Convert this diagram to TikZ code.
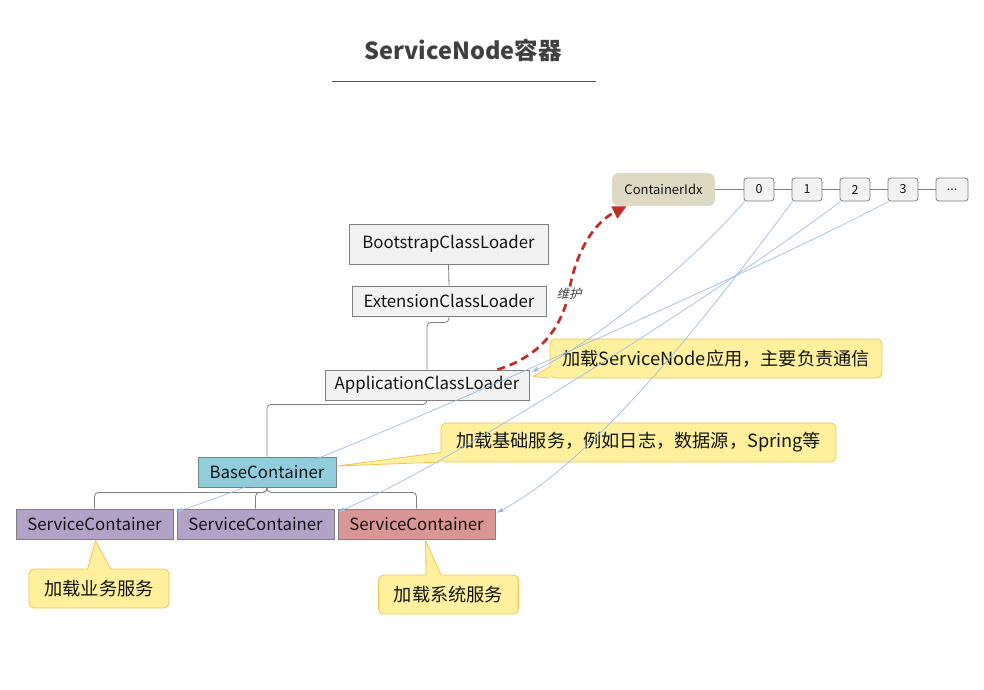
\documentclass[tikz,border=0pt]{standalone}
\usepackage{fontspec}
\setmainfont{Noto Sans CJK SC}
\newfontfamily\cjkslant[FakeSlant=0.25]{Noto Sans CJK SC}
\usetikzlibrary{arrows.meta,calc,backgrounds}
\definecolor{boxfill}{HTML}{F2F2F2}
\definecolor{boxline}{HTML}{7F7F7F}
\definecolor{treeline}{HTML}{808080}
\definecolor{txt}{HTML}{141414}
\definecolor{titletxt}{HTML}{404040}
\definecolor{titleline}{HTML}{3E5282}
\definecolor{idxfill}{HTML}{DDD9C3}
\definecolor{basefill}{HTML}{92CDDC}
\definecolor{purplefill}{HTML}{B2A2C7}
\definecolor{redfill}{HTML}{D99694}
\definecolor{callfill}{HTML}{FFF09E}
\definecolor{callline}{HTML}{F3C24E}
\definecolor{linkblue}{HTML}{9FBBE0}
\definecolor{maintred}{HTML}{BE2D2A}
\tikzset{
  box/.style={draw=boxline, fill=boxfill, line width=0.8pt, inner sep=0pt, text=txt, font=\fontsize{16.8}{18}\selectfont},
  idxbox/.style={draw=boxline, fill=boxfill, line width=0.8pt, rounded corners=3pt, inner sep=0pt, minimum width=30pt, minimum height=23pt, text=txt, font=\fontsize{12.5}{12}\selectfont},
  callout/.style={draw=callline, fill=callfill, line width=0.8pt, rounded corners=5pt, inner sep=0pt, text=txt, font=\fontsize{18.2}{18}\selectfont},
  tree/.style={draw=treeline, line width=0.8pt, rounded corners=4pt},
  link/.style={draw=linkblue, line width=0.7pt, -{Latex[length=7pt,width=4.5pt]}},
  maint/.style={draw=maintred, line width=2.7pt, dash pattern=on 8pt off 5pt, -{Triangle[length=14pt,width=13pt]}},
}
\begin{document}
\begin{tikzpicture}[x=1pt,y=-1pt]
\useasboundingbox (0,0) rectangle (984,689);

% title
\node[font=\fontsize{23.5}{25}\selectfont\bfseries, text=titletxt] (title) at (463,50) {ServiceNode容器};
\coordinate (ulA) at (332,81.5);
\coordinate (ulB) at (596,81.5);
\draw[titleline, line width=1.3pt] (ulA) -- (ulB);

% index row
\node[fill=idxfill, rounded corners=7pt, minimum width=103pt, minimum height=33pt, inner sep=0pt, text=txt, font=\fontsize{13}{13}\selectfont] (cidx) at (663.5,189.5) {ContainerIdx};
\node[idxbox] (i0) at (759,189.5) {0};
\node[idxbox] (i1) at (807,189.5) {1};
\node[idxbox] (i2) at (855,189.5) {2};
\node[idxbox] (i3) at (903,189.5) {3};
\node[idxbox, minimum width=32pt] (idots) at (952,189.5) {...};
\draw[tree] (cidx.east) -- (i0.west);
\draw[tree] (i0.east) -- (i1.west);
\draw[tree] (i1.east) -- (i2.west);
\draw[tree] (i2.east) -- (i3.west);
\draw[tree] (i3.east) -- (idots.west);

% class loader tree
\node[box, minimum width=199pt, minimum height=40pt] (bcl) at (448.5,244) {BootstrapClassLoader};
\node[box, minimum width=194pt, minimum height=30pt] (ecl) at (449,301) {ExtensionClassLoader};
\node[box, minimum width=204pt, minimum height=30pt] (acl) at (427,385) {ApplicationClassLoader};
\node[box, fill=basefill, minimum width=138pt, minimum height=30pt] (base) at (267,472) {BaseContainer};
\node[box, fill=purplefill, minimum width=157pt, minimum height=30pt] (sc1) at (94.5,524) {ServiceContainer};
\node[box, fill=purplefill, minimum width=157pt, minimum height=30pt] (sc2) at (255.5,524) {ServiceContainer};
\node[box, fill=redfill, minimum width=157pt, minimum height=30pt] (sc3) at (416.5,524) {ServiceContainer};

\begin{scope}[on background layer]
\draw[tree] (bcl.south) -- (ecl.north);
\draw[tree] (ecl.south) -- ++(0,6) -| (acl.north);
\draw[tree] (acl.south) -- ++(0,4) -| (base.north);
\draw[tree] (base.south) -- ++(0,5) -| (sc1.north);
\draw[tree] (base.south) -- ++(0,5) -| (sc3.north);
\draw[tree] (base.south) -- ++(0,5) -| (sc2.north);
\end{scope}

% callouts
\node[callout, minimum width=332pt, minimum height=39pt] (callA) at (716,358.5) {加载ServiceNode应用，主要负责通信};
\node[callout, minimum width=395pt, minimum height=39pt] (callB) at (638.5,442.5) {加载基础服务，例如日志，数据源，Spring等};
\node[callout, minimum width=140pt, minimum height=39pt] (callC) at (99,588.5) {加载业务服务};
\node[callout, minimum width=140pt, minimum height=39pt] (callD) at (448.5,594.5) {加载系统服务};

\coordinate (tipA) at ($(acl.north east)+(4,7)$);
\coordinate (tipB) at ($(base.east)+(1,-6)$);
\coordinate (tipC) at ($(sc1.south)+(1,1)$);
\coordinate (tipD) at ($(sc3.south)+(9,1)$);

\fill[callfill] ($(callA.south west)+(2,-12)$) -- (tipA) -- ($(callA.south west)+(2,-1.2)$) -- cycle;
\draw[callline, line width=0.8pt] ($(callA.south west)+(0.4,-12)$) -- (tipA) -- ($(callA.south west)+(0.4,-0.4)$);
\fill[callfill] ($(callB.south west)+(2,-10)$) -- (tipB) -- ($(callB.south west)+(2,-1.2)$) -- cycle;
\draw[callline, line width=0.8pt] ($(callB.south west)+(0.4,-10)$) -- (tipB) -- ($(callB.south west)+(0.4,-0.4)$);
\fill[callfill] ($(callC.north west)+(59,2)$) -- (tipC) -- ($(callC.north west)+(82,2)$) -- cycle;
\draw[callline, line width=0.8pt] ($(callC.north west)+(59,0.4)$) -- (tipC) -- ($(callC.north west)+(82,0.4)$);
\fill[callfill] ($(callD.north west)+(48,2)$) -- (tipD) -- ($(callD.north west)+(63,2)$) -- cycle;
\draw[callline, line width=0.8pt] ($(callD.north west)+(48,0.4)$) -- (tipD) -- ($(callD.north west)+(63,0.4)$);

% index links
\coordinate (s0) at ($(i0.south west)+(1,0)$);
\coordinate (s1) at ($(i1.south west)+(1,0)$);
\coordinate (s2) at ($(i2.south west)+(1,0)$);
\coordinate (s3) at ($(i3.south west)+(1,0)$);
\coordinate (eA) at ($(acl.east)+(2,-13)$);
\draw[link] (s0) .. controls (690,265) and (590,345) .. (eA);
\draw[link] (s1) .. controls (742,268) and (610,452) .. ($(sc3.east)+(1,-11)$);
\draw[link] (s2) .. controls (730,285) and (450,465) .. ($(sc2.east)+(3,-12)$);
\draw[link] (s3) .. controls (760,270) and (320,465) .. ($(sc1.east)+(2,-12)$);

% maintenance arrow
\draw[maint] ($(acl.north east)+(-32,0)$) .. controls (545,355) and (563,322) .. (569,292)
  .. controls (576,250) and (595,222) .. ($(cidx.south west)+(15,0)$);
\node[fill=white, inner sep=1pt, text=titletxt, font=\fontsize{12.5}{12}\cjkslant] (lbl) at (569,294) {维护};
\end{tikzpicture}
\end{document}
